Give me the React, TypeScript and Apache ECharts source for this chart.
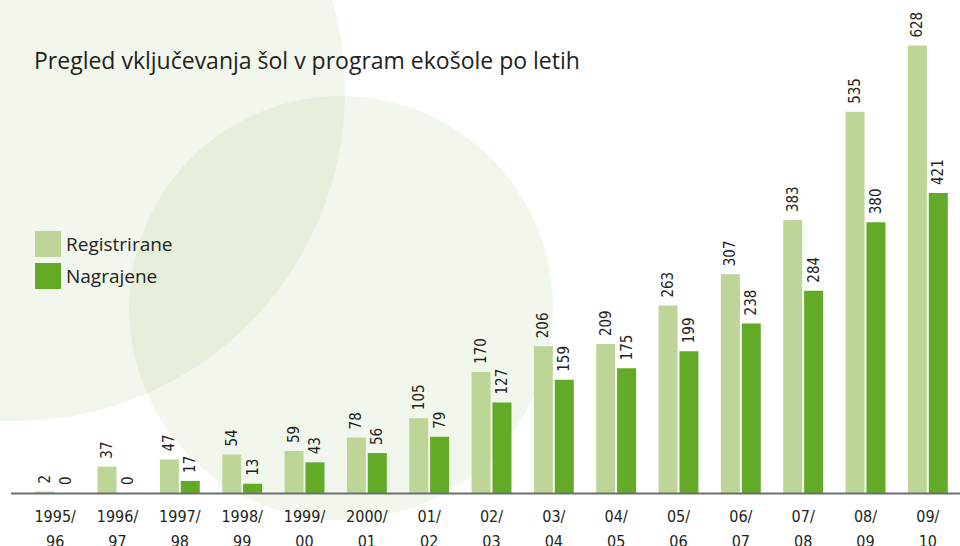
import React, { useEffect, useRef } from "react";
import * as echarts from "echarts";

const categories = [
  "1995/\n96", "1996/\n97", "1997/\n98", "1998/\n99", "1999/\n00", "2000/\n01",
  "01/\n02", "02/\n03", "03/\n04", "04/\n05", "05/\n06", "06/\n07", "07/\n08", "08/\n09", "09/\n10",
];
const registrirane = [2, 37, 47, 54, 59, 78, 105, 170, 206, 209, 263, 307, 383, 535, 628];
const nagrajene = [0, 0, 17, 13, 43, 56, 79, 127, 159, 175, 199, 238, 284, 380, 421];
const seriesNames = ["Registrirane", "Nagrajene"];
const titleText = "Pregled vključevanja šol v program ekošole po letih";

const NARROW = "'Liberation Sans Narrow', 'DejaVu Sans Condensed', sans-serif";
const SANS = "'Open Sans', 'Noto Sans', sans-serif";
const TEXT = "#231f20";
const LIGHT = "#bed598";
const DARK = "#63aa27";
const CIRCLE = "rgba(90,150,30,0.08)";

export default function App() {
  const ref = useRef<HTMLDivElement>(null);
  useEffect(() => {
    if (!ref.current) return;
    const chart = echarts.init(ref.current, null, { renderer: "svg" });
    const label = {
      show: true,
      position: "top",
      rotate: 90,
      align: "left",
      verticalAlign: "middle",
      distance: 8,
      fontFamily: NARROW,
      fontSize: 15,
      color: TEXT,
    };
    chart.setOption({
      animation: false,
      backgroundColor: "#ffffff",
      title: {
        text: titleText,
        left: 29,
        top: 43,
        textStyle: { fontFamily: SANS, fontSize: 23, fontWeight: "normal", color: TEXT },
      },
      legend: {
        orient: "vertical",
        left: 30,
        top: 226,
        itemWidth: 26,
        itemHeight: 26,
        itemGap: 6,
        icon: "rect",
        textStyle: { fontFamily: SANS, fontSize: 19, color: TEXT },
        data: seriesNames,
      },
      graphic: {
        elements: [
          { type: "circle", z: -10, silent: true, shape: { cx: 15, cy: 91, r: 330 }, style: { fill: CIRCLE } },
          { type: "circle", z: -10, silent: true, shape: { cx: 341, cy: 308, r: 212 }, style: { fill: CIRCLE } },
          { type: "line", z: 5, silent: true, shape: { x1: 11, y1: 493.5, x2: 960, y2: 493.5 }, style: { stroke: "#6d6e71", lineWidth: 2 } },
        ],
      },
      grid: { left: 24, right: 1, top: 37, bottom: 53, containLabel: false, outerBoundsMode: "none" },
      xAxis: {
        type: "category",
        data: categories,
        axisTick: { show: false },
        axisLine: { show: false },
        axisLabel: {
          interval: 0,
          margin: 11,
          fontFamily: NARROW,
          fontSize: 16,
          lineHeight: 25,
          color: TEXT,
        },
      },
      yAxis: { type: "value", min: 0, max: 640, show: false, splitLine: { show: false } },
      series: [
        { name: seriesNames[0], type: "bar", data: registrirane, barWidth: 19, barGap: "10%", itemStyle: { color: LIGHT }, label },
        { name: seriesNames[1], type: "bar", data: nagrajene, barWidth: 19, barGap: "10%", itemStyle: { color: DARK }, label },
      ],
    });
    return () => chart.dispose();
  }, []);
  return <div ref={ref} style={{ width: 960, height: 546, position: "absolute", left: 0, top: 0 }} />;
}
